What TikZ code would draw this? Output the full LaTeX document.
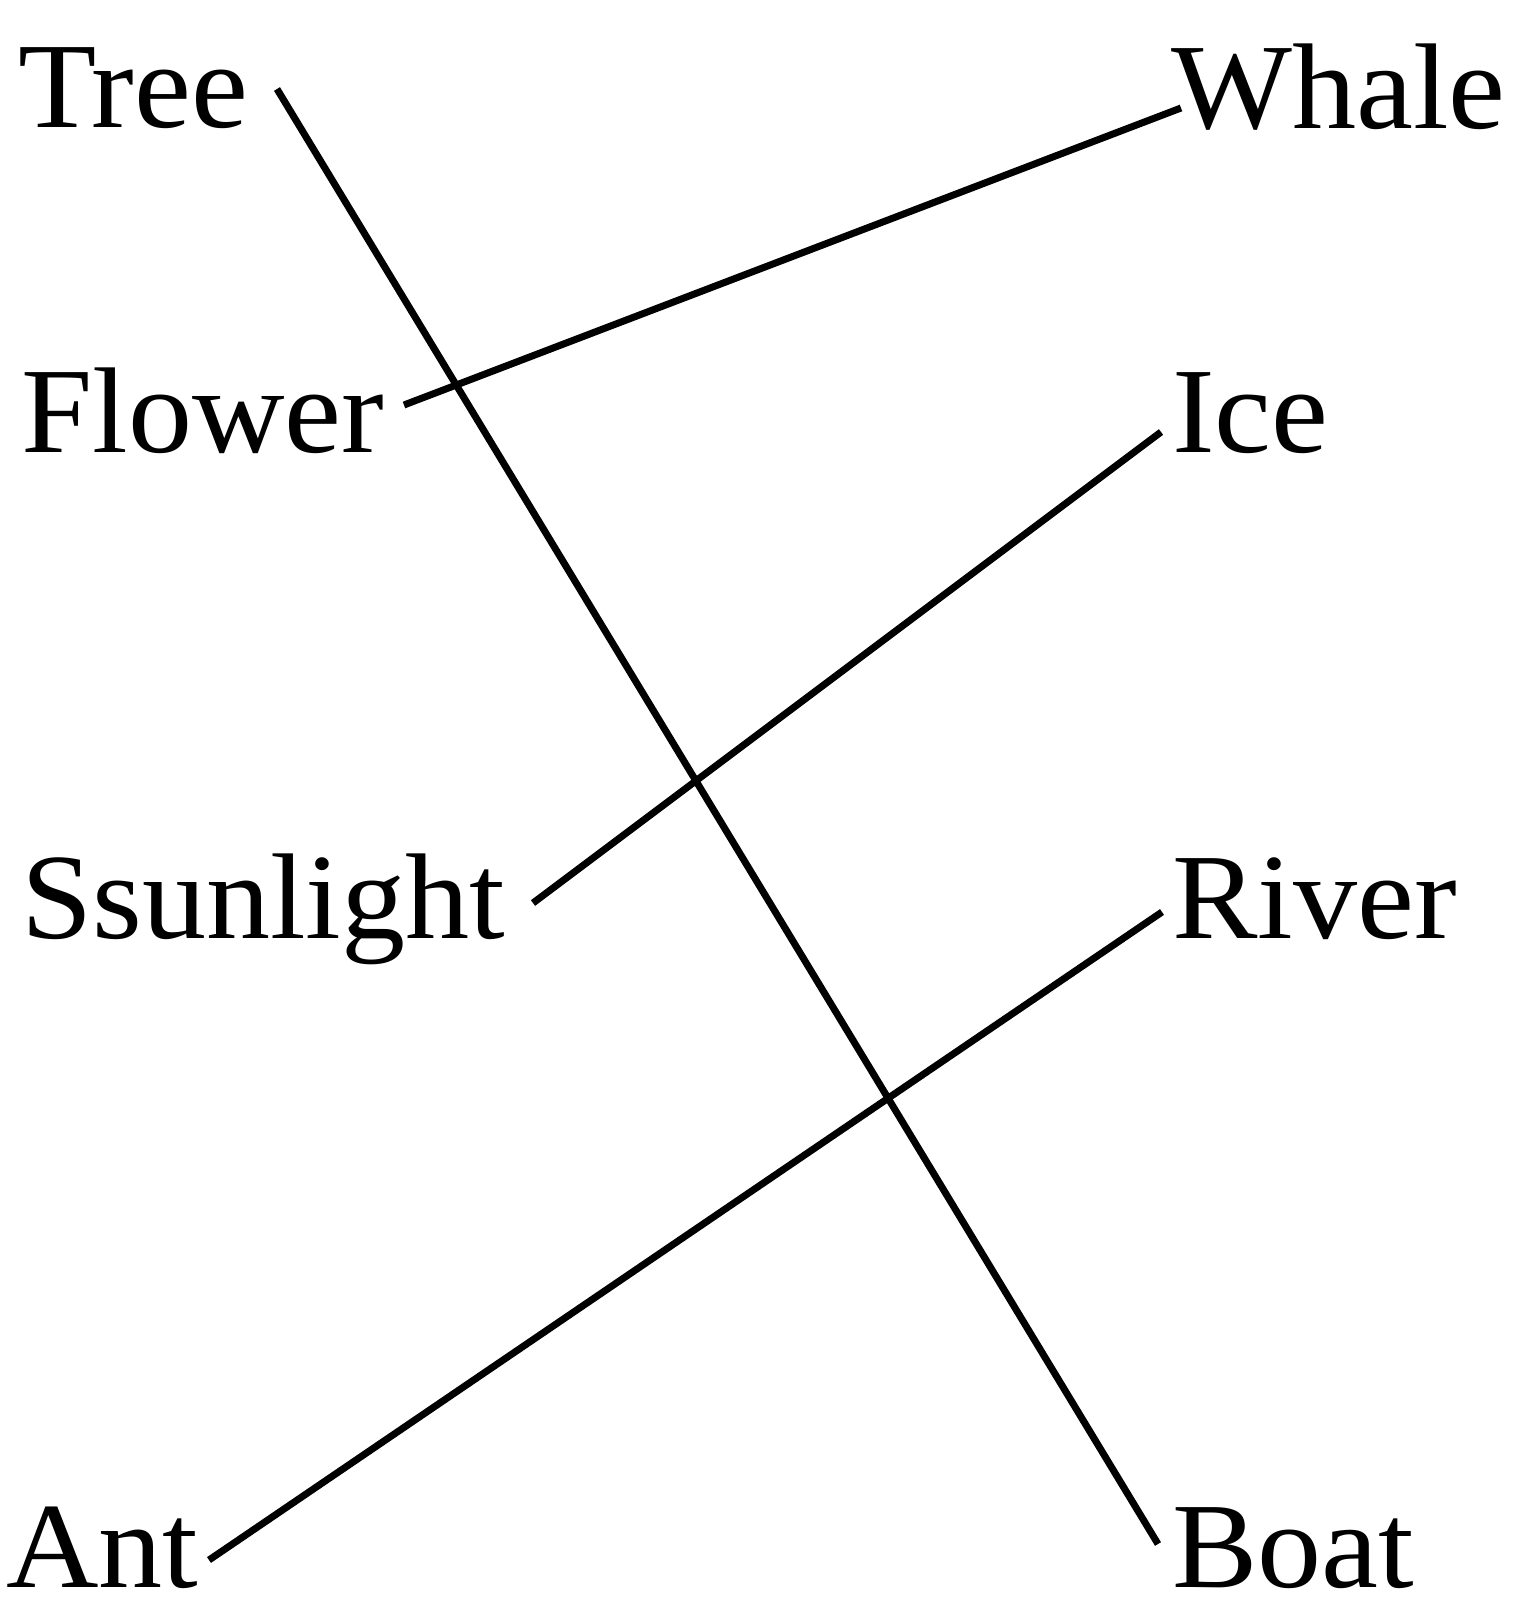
\documentclass[tikz,border=0pt]{standalone}
\usepackage{fontspec}
\setmainfont{Liberation Serif}[FakeStretch=1.05]
\begin{document}
\begin{tikzpicture}[x=1pt,y=-1pt,
  word/.style={anchor=base west,inner sep=0pt,font=\fontsize{122}{122}\selectfont},
  link/.style={line width=7pt,line cap=butt}]
\useasboundingbox (0,0) rectangle (1532,1601);
% left words
\node[word] (tree) at (18,127) {Tree};
\node[word] (flower) at (21,452) {Flower};
\node[word] (sun) at (21,938) {Ssunlight};
\node[word] (ant) at (6,1587) {Ant};
% right words
\node[word] (whale) at (1171,128) {Whale};
\node[word] (ice) at (1172,452) {Ice};
\node[word] (river) at (1172,938) {River};
\node[word] (boat) at (1172,1587) {Boat};
% connector ends
\coordinate (treeE) at (277,89);
\coordinate (boatW) at (1158,1544);
\coordinate (whaleW) at (1181,108);
\coordinate (flowerE) at (404,405);
\coordinate (iceW) at (1161,432);
\coordinate (sunE) at (533,903);
\coordinate (riverW) at (1162,912);
\coordinate (antE) at (209,1560);
\draw[link] (treeE) -- (boatW);
\draw[link] (whaleW) -- (flowerE);
\draw[link] (iceW) -- (sunE);
\draw[link] (riverW) -- (antE);
\end{tikzpicture}
\end{document}
